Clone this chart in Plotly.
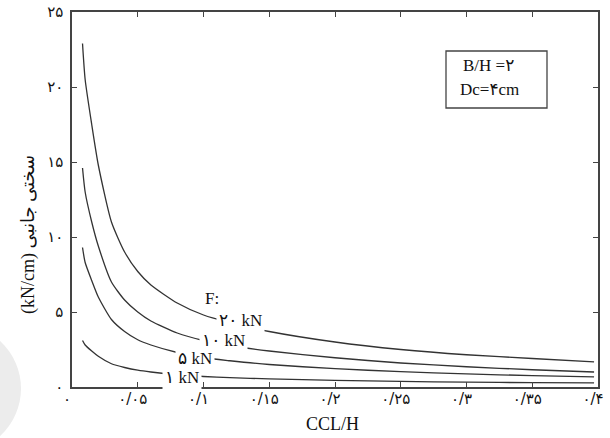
import plotly.graph_objects as go

# ---- data ----
ccl_h = [0.008, 0.01, 0.015, 0.02, 0.03, 0.04, 0.05, 0.06, 0.08, 0.10,
         0.12, 0.15, 0.20, 0.25, 0.30, 0.35, 0.397]
k_20kN = [22.9, 20.5, 17.5, 14.8, 11.0, 9.0, 7.7, 6.8, 5.6, 4.8,
          4.3, 3.7, 3.0, 2.5, 2.15, 1.9, 1.67]
k_10kN = [14.6, 13.0, 11.0, 9.4, 7.0, 5.8, 5.0, 4.4, 3.6, 3.1,
          2.75, 2.4, 1.95, 1.6, 1.35, 1.15, 1.0]
k_5kN = [9.3, 8.3, 7.1, 6.0, 4.5, 3.7, 3.15, 2.8, 2.3, 1.95,
         1.75, 1.5, 1.22, 1.02, 0.87, 0.76, 0.67]
k_1kN = [3.1, 2.8, 2.4, 2.05, 1.55, 1.3, 1.12, 1.0, 0.82, 0.7,
         0.62, 0.54, 0.44, 0.37, 0.32, 0.29, 0.27]

series_names = ["۲۰ kN", "۱۰ kN", "۵ kN", "۱ kN"]
series_values = [k_20kN, k_10kN, k_5kN, k_1kN]

x_tickvals = [0, 0.05, 0.1, 0.15, 0.2, 0.25, 0.3, 0.35, 0.4]
x_ticktext = ["۰", "۰/۰۵", "۰/۱", "۰/۱۵", "۰/۲", "۰/۲۵", "۰/۳", "۰/۳۵", "۰/۴"]
y_tickvals = [0, 5, 10, 15, 20, 25]
y_ticktext = ["۰", "۵", "۱۰", "۱۵", "۲۰", "۲۵"]

# ---- layout geometry (pixels) ----
W, H = 610, 438
L, R, T, B = 72, 598, 12, 387


def px(xp):
    return (xp - L) / (R - L)


def py(yp):
    return (B - yp) / (B - T)


FONT = "Liberation Serif, Times New Roman, DejaVu Sans, serif"
INK = "#333333"

fig = go.Figure()

for name, vals in zip(series_names, series_values):
    fig.add_trace(go.Scatter(
        x=ccl_h, y=vals, mode="lines", name=name,
        line=dict(color=INK, width=1.3, shape="spline", smoothing=0.6),
        showlegend=False, hoverinfo="skip",
    ))

annotations = []
# curve labels with white background (cut the curves like the reference)
label_pos = [(240, 320), (223, 340), (195, 358), (182, 377)]
for name, (xp, yp) in zip(series_names, label_pos):
    annotations.append(dict(
        x=px(xp), y=py(yp), xref="paper", yref="paper", text=name,
        showarrow=False, font=dict(family=FONT, size=17, color="#111"),
        bgcolor="white", borderpad=2, xanchor="center", yanchor="middle",
    ))
annotations.append(dict(
    x=px(212), y=py(298), xref="paper", yref="paper", text="F:",
    showarrow=False, font=dict(family=FONT, size=17, color="#111"),
    xanchor="center", yanchor="middle",
))
# info box text
annotations.append(dict(
    x=px(488), y=py(65), xref="paper", yref="paper", text="B/H =۲",
    showarrow=False, font=dict(family=FONT, size=17, color="#111"),
    xanchor="center", yanchor="middle",
))
annotations.append(dict(
    x=px(489), y=py(90), xref="paper", yref="paper", text="Dc=۴cm",
    showarrow=False, font=dict(family=FONT, size=17, color="#111"),
    xanchor="center", yanchor="middle",
))
# y axis title
annotations.append(dict(
    x=px(28), y=py(235), xref="paper", yref="paper",
    text="(kN/cm) سختی جانبی", textangle=-90,
    showarrow=False, font=dict(family=FONT, size=18, color="#111"),
    xanchor="center", yanchor="middle",
))
# x axis title
annotations.append(dict(
    x=px(332), y=py(424), xref="paper", yref="paper", text="CCL/H",
    showarrow=False, font=dict(family=FONT, size=18, color="#111"),
    xanchor="center", yanchor="middle",
))

shapes = [
    # info box
    dict(type="rect", xref="paper", yref="paper",
         x0=px(446), x1=px(547), y0=py(108), y1=py(51),
         line=dict(color="#444", width=1.3), fillcolor="rgba(0,0,0,0)"),
    # faint watermark disc at the left edge
    dict(type="circle", xref="paper", yref="paper", layer="below",
         x0=px(-118), x1=px(21), y0=py(455), y1=py(322),
         line=dict(width=0), fillcolor="#ececec"),
]

axis_common = dict(
    showline=True, linecolor="#444", linewidth=1.5, mirror="ticks",
    ticks="inside", ticklen=5, tickcolor="#444", tickwidth=1.3,
    showgrid=False, zeroline=False, automargin=False,
    tickfont=dict(family="DejaVu Sans, sans-serif", size=15, color="#111"),
)

fig.update_layout(
    width=W, height=H,
    margin=dict(l=L, r=W - R, t=T, b=H - B, autoexpand=False),
    paper_bgcolor="white", plot_bgcolor="white",
    xaxis=dict(range=[0, 0.4], tickvals=x_tickvals, ticktext=x_ticktext,
               ticklabelstandoff=-3, ticklabelshift=-5, **axis_common),
    yaxis=dict(range=[0, 25], tickvals=y_tickvals, ticktext=y_ticktext,
               ticklabelstandoff=4, **axis_common),
    annotations=annotations, shapes=shapes,
)

fig.write_html(
    "out.html",
    config={"displayModeBar": False},
    post_script="document.body.style.margin='0';"
                "document.documentElement.style.overflow='hidden';",
)
